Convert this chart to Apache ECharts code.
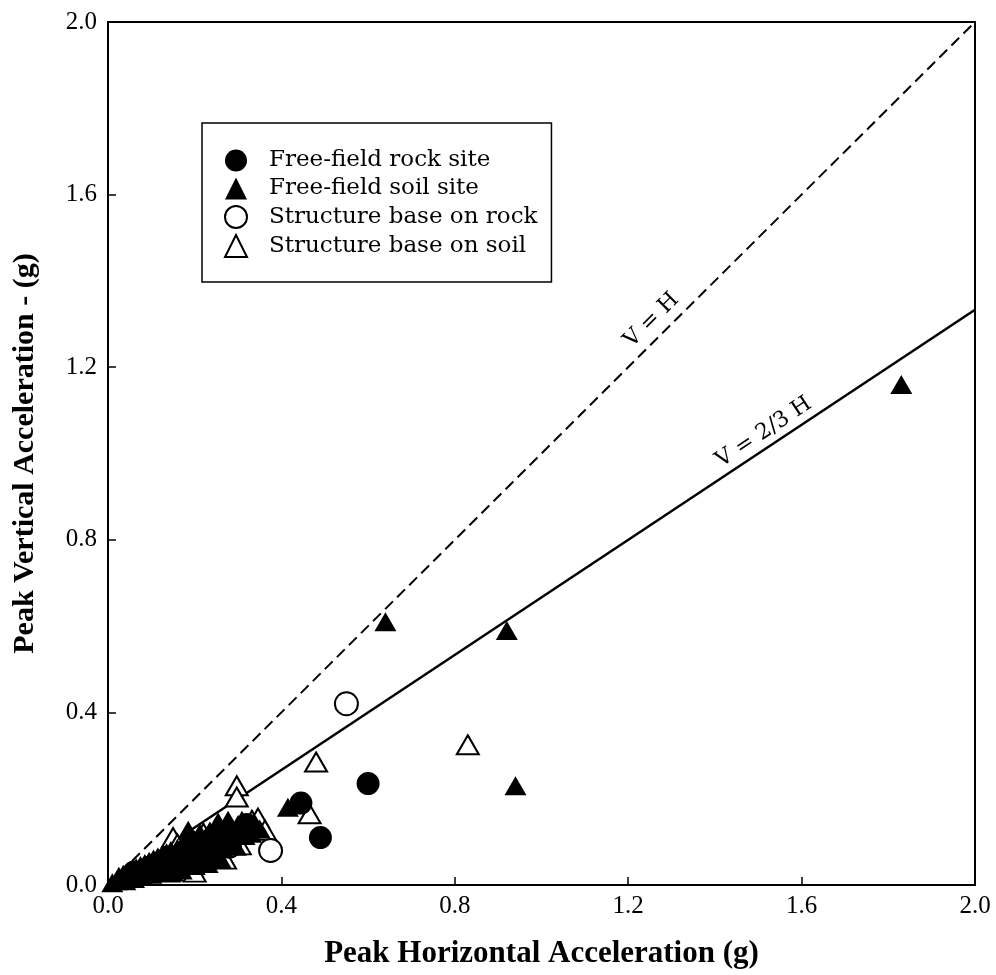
<!DOCTYPE html>
<html>
<head>
<meta charset="utf-8">
<script src="https://cdn.jsdelivr.net/npm/echarts@6/dist/echarts.min.js"></script>
<style>
  html, body { margin: 0; padding: 0; background: #fff; }
  #box { width: 996px; height: 975px; }
</style>
</head>
<body>
<div id="box"></div>
<script>
// Free-field rock site (filled circles) [PHA, PVA]
const rockFree = [
  [0.60, 0.235], [0.49, 0.11], [0.445, 0.19], [0.32, 0.14], [0.25, 0.10],
  [0.18, 0.08], [0.12, 0.05], [0.06, 0.03]
];

// Free-field soil site (filled triangles)
const soilFree = [
  [1.83, 1.16], [0.64, 0.61], [0.92, 0.59], [0.94, 0.23], [0.415, 0.18],
  [0.01, 0.005], [0.02, 0.01], [0.025, 0.02], [0.03, 0.015], [0.035, 0.025],
  [0.04, 0.01], [0.045, 0.03], [0.05, 0.02], [0.055, 0.035], [0.06, 0.015],
  [0.065, 0.04], [0.07, 0.025], [0.075, 0.045], [0.08, 0.02], [0.085, 0.05],
  [0.09, 0.035], [0.095, 0.055], [0.10, 0.025], [0.105, 0.06], [0.11, 0.04],
  [0.115, 0.065], [0.12, 0.03], [0.125, 0.07], [0.13, 0.05], [0.135, 0.075],
  [0.14, 0.045], [0.145, 0.08], [0.15, 0.06], [0.16, 0.085], [0.165, 0.05],
  [0.17, 0.09], [0.175, 0.065], [0.18, 0.10], [0.185, 0.127], [0.19, 0.08],
  [0.195, 0.055], [0.20, 0.105], [0.205, 0.07], [0.212, 0.12], [0.215, 0.09],
  [0.22, 0.06], [0.225, 0.11], [0.23, 0.08], [0.235, 0.125], [0.24, 0.095],
  [0.245, 0.07], [0.254, 0.146], [0.26, 0.11], [0.265, 0.085], [0.27, 0.13],
  [0.277, 0.15], [0.28, 0.10], [0.29, 0.125], [0.295, 0.09], [0.30, 0.14],
  [0.309, 0.15], [0.315, 0.115], [0.32, 0.135], [0.33, 0.12], [0.34, 0.14],
  [0.35, 0.13], [0.26, 0.06], [0.23, 0.05], [0.20, 0.045], [0.17, 0.035],
  [0.15, 0.03]
];

// Structure base on rock (open circles)
const rockBase = [
  [0.55, 0.42], [0.375, 0.08], [0.20, 0.07], [0.17, 0.06], [0.28, 0.09],
  [0.10, 0.04]
];

// Structure base on soil (open triangles)
const soilBase = [
  [0.83, 0.325], [0.48, 0.285], [0.465, 0.165], [0.297, 0.23], [0.297, 0.204],
  [0.332, 0.15], [0.346, 0.155], [0.362, 0.127], [0.304, 0.093], [0.15, 0.11],
  [0.16, 0.095], [0.14, 0.03], [0.19, 0.075], [0.21, 0.075], [0.25, 0.08],
  [0.27, 0.06], [0.28, 0.10], [0.22, 0.12], [0.19, 0.11], [0.12, 0.05],
  [0.09, 0.04], [0.24, 0.11], [0.20, 0.03], [0.27, 0.12], [0.30, 0.13]
];

// reference lines
const lineVH = [[0, 0], [2, 2]];
const lineV23H = [[0, 0], [2, 4 / 3]];

const serif = '"Liberation Serif", "Times New Roman", serif';
const bookSerif = '"DejaVu Serif", serif';

let myChart = echarts.init(document.getElementById('box'));

let axisCommon = {
  type: 'value',
  min: 0,
  max: 2,
  interval: 0.4,
  nameLocation: 'middle',
  axisLine: { show: true, onZero: false, lineStyle: { color: '#000', width: 2 } },
  axisTick: { show: true, inside: true, length: 8, lineStyle: { color: '#000', width: 1.5 } },
  axisLabel: {
    fontFamily: serif, fontSize: 25, color: '#000',
    formatter: v => v.toFixed(1)
  },
  splitLine: { show: false }
};

let openStyle = { color: '#fff', borderColor: '#000', borderWidth: 2, opacity: 1 };
let fillStyle = { color: '#000', borderColor: '#000', borderWidth: 0, opacity: 1 };

let option = {
  backgroundColor: '#fff',
  animation: false,
  grid: {
    left: 108, right: 21, top: 22, bottom: 90,
    show: true, borderColor: '#000', borderWidth: 2, backgroundColor: 'transparent'
  },
  xAxis: Object.assign({}, axisCommon, {
    name: 'Peak Horizontal Acceleration (g)',
    nameGap: 53,
    nameTextStyle: { fontFamily: serif, fontWeight: 'bold', fontSize: 31, color: '#000' },
    axisLabel: Object.assign({}, axisCommon.axisLabel, { margin: 9 })
  }),
  yAxis: Object.assign({}, axisCommon, {
    name: 'Peak Vertical Acceleration - (g)',
    nameGap: 68,
    nameTextStyle: { fontFamily: serif, fontWeight: 'bold', fontSize: 30, color: '#000' },
    axisLabel: Object.assign({}, axisCommon.axisLabel, { margin: 11 })
  }),
  legend: {
    orient: 'vertical',
    left: 202,
    top: 123,
    padding: [26, 14, 24, 22],
    borderColor: '#000',
    borderWidth: 1.5,
    itemWidth: 22,
    itemHeight: 22,
    itemGap: 5,
    selectedMode: false,
    textStyle: { fontFamily: bookSerif, fontSize: 23, color: '#000', padding: [0, 0, 0, 17] },
    data: [
      { name: 'Free-field rock site', icon: 'circle' },
      { name: 'Free-field soil site', icon: 'triangle' },
      { name: 'Structure base on rock', icon: 'circle' },
      { name: 'Structure base on soil', icon: 'triangle' }
    ]
  },
  series: [
    {
      name: 'V = H', type: 'line', data: lineVH, symbol: 'none', silent: true,
      lineStyle: { color: '#000', width: 2, type: [11, 6] }, z: 1
    },
    {
      name: 'V = 2/3 H', type: 'line', data: lineV23H, symbol: 'none', silent: true,
      lineStyle: { color: '#000', width: 2.5 }, z: 1
    },
    {
      name: 'Structure base on soil', type: 'scatter', symbol: 'triangle', symbolSize: [22, 19],
      data: soilBase, itemStyle: openStyle, z: 2
    },
    {
      name: 'Structure base on rock', type: 'scatter', symbol: 'circle', symbolSize: 23,
      data: rockBase, itemStyle: openStyle, z: 2
    },
    {
      name: 'Free-field soil site', type: 'scatter', symbol: 'triangle', symbolSize: [22, 19],
      data: soilFree, itemStyle: fillStyle, z: 3
    },
    {
      name: 'Free-field rock site', type: 'scatter', symbol: 'circle', symbolSize: 23,
      data: rockFree, itemStyle: fillStyle, z: 3
    }
  ]
};

myChart.setOption(option);

// rotated line labels placed through the grid's own coordinate conversion
let pVH = myChart.convertToPixel({ gridIndex: 0 }, [1.254, 1.309]);
let pV23 = myChart.convertToPixel({ gridIndex: 0 }, [1.513, 1.049]);
myChart.setOption({
  graphic: [
    {
      type: 'text', x: pVH[0], y: pVH[1], rotation: Math.PI / 4,
      style: { text: 'V = H', font: '22px ' + bookSerif, fill: '#000', align: 'center', verticalAlign: 'middle' }
    },
    {
      type: 'text', x: pV23[0], y: pV23[1], rotation: Math.atan(2 / 3),
      style: { text: 'V = 2/3 H', font: '22px ' + bookSerif, fill: '#000', align: 'center', verticalAlign: 'middle' }
    }
  ]
});
</script>
</body>
</html>
